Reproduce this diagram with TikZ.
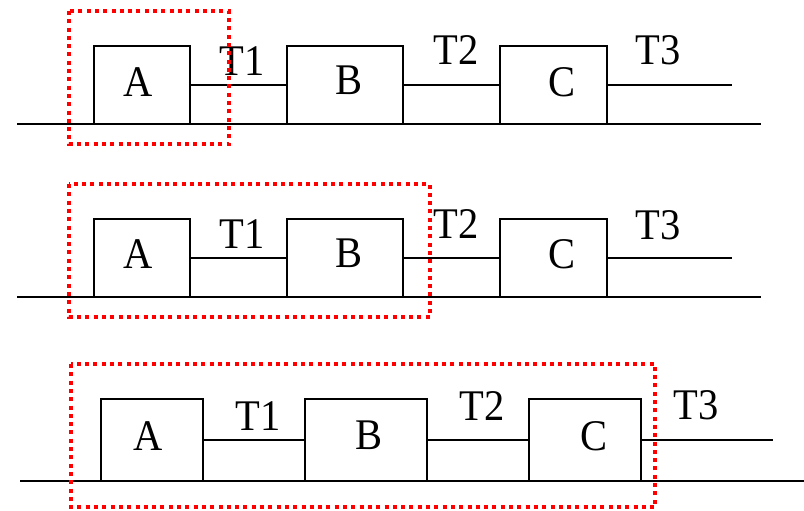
\documentclass[tikz,border=0pt]{standalone}
\usepackage{fontspec}
\setmainfont{Liberation Serif}
\newcommand{\lbltxt}[1]{\scalebox{1}[1.08]{#1}}
\begin{document}
\begin{tikzpicture}[x=1pt,y=-1pt,
  blk/.style={draw=black, line width=1.7pt, anchor=north west, inner sep=0pt, outer sep=0pt},
  lbl/.style={anchor=base, inner sep=0pt, font=\fontsize{40.5}{44}\selectfont},
  wire/.style={draw=black, line width=1.9pt},
  reddot/.style={draw=red, line width=3.6pt, dash pattern=on 4pt off 4.3pt}]
\useasboundingbox (0,0) rectangle (804,511);
\fill[white] (0,0) rectangle (804,511);

% ---------- Row 1 ----------
\node[blk, minimum width=96pt, minimum height=78pt] (A1) at (94,46) {};
\node[blk, minimum width=116pt, minimum height=78pt] (B1) at (287,46) {};
\node[blk, minimum width=107pt, minimum height=78pt] (C1) at (500,46) {};
\coordinate (L1s) at (17,124);
\coordinate (L1e) at (761,124);
\coordinate (T3e1) at (732,85);
\draw[wire] (L1s) -- (L1e);
\draw[wire] (A1.east) -- (B1.west);
\draw[wire] (B1.east) -- (C1.west);
\draw[wire] (C1.east) -- (T3e1);
\node[lbl] (a1) at (138,96) {\lbltxt{A}};
\node[lbl] (b1) at (349,95) {\lbltxt{B}};
\node[lbl] (c1) at (562,96) {\lbltxt{C}};
\node[lbl] (t11) at (242,76) {\lbltxt{T1}};
\node[lbl] (t21) at (456,65) {\lbltxt{T2}};
\node[lbl] (t31) at (658,65) {\lbltxt{T3}};
\draw[reddot] (69,11) rectangle (229,144);

% ---------- Row 2 ----------
\node[blk, minimum width=96pt, minimum height=78pt] (A2) at (94,219) {};
\node[blk, minimum width=116pt, minimum height=78pt] (B2) at (287,219) {};
\node[blk, minimum width=107pt, minimum height=78pt] (C2) at (500,219) {};
\coordinate (L2s) at (17,297);
\coordinate (L2e) at (761,297);
\coordinate (T3e2) at (732,258);
\draw[wire] (L2s) -- (L2e);
\draw[wire] (A2.east) -- (B2.west);
\draw[wire] (B2.east) -- (C2.west);
\draw[wire] (C2.east) -- (T3e2);
\node[lbl] (a2) at (138,268) {\lbltxt{A}};
\node[lbl] (b2) at (349,267) {\lbltxt{B}};
\node[lbl] (c2) at (562,268) {\lbltxt{C}};
\node[lbl] (t12) at (242,248) {\lbltxt{T1}};
\node[lbl] (t22) at (456,238) {\lbltxt{T2}};
\node[lbl] (t32) at (658,239) {\lbltxt{T3}};
\draw[reddot] (69,184) rectangle (430,317);

% ---------- Row 3 ----------
\node[blk, minimum width=102pt, minimum height=82pt] (A3) at (101,399) {};
\node[blk, minimum width=122pt, minimum height=82pt] (B3) at (305,399) {};
\node[blk, minimum width=112pt, minimum height=82pt] (C3) at (529,399) {};
\coordinate (L3s) at (20,481);
\coordinate (L3e) at (804,481);
\coordinate (T3e3) at (773,440);
\draw[wire] (L3s) -- (L3e);
\draw[wire] (A3.east) -- (B3.west);
\draw[wire] (B3.east) -- (C3.west);
\draw[wire] (C3.east) -- (T3e3);
\node[lbl] (a3) at (148,450) {\lbltxt{A}};
\node[lbl] (b3) at (369,449) {\lbltxt{B}};
\node[lbl] (c3) at (594,450) {\lbltxt{C}};
\node[lbl] (t13) at (258,430) {\lbltxt{T1}};
\node[lbl] (t23) at (482,420) {\lbltxt{T2}};
\node[lbl] (t33) at (696,419) {\lbltxt{T3}};
\draw[reddot] (71,364) rectangle (655,507);
\end{tikzpicture}
\end{document}
